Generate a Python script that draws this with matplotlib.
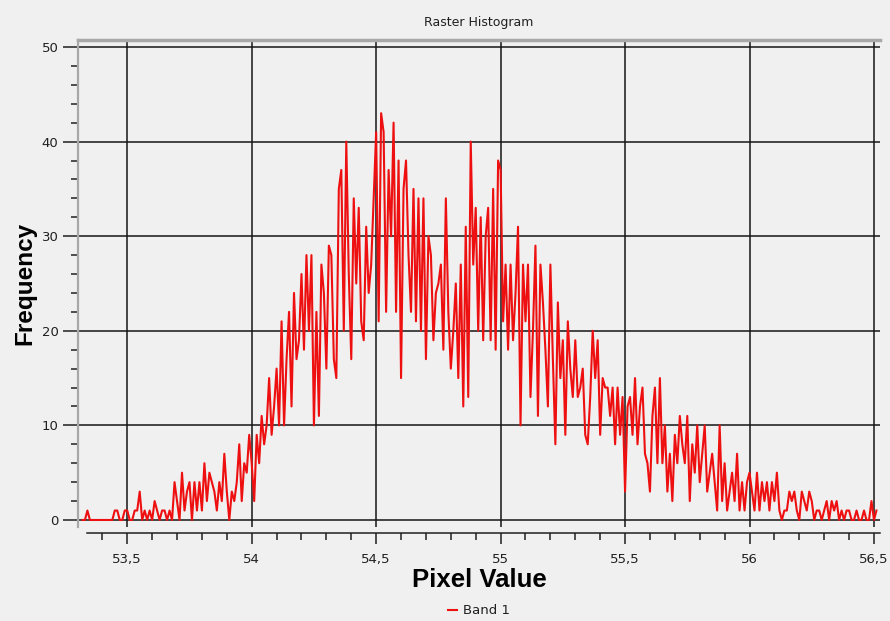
import numpy as np
import matplotlib
matplotlib.use("Agg")
import matplotlib.pyplot as plt
from matplotlib.ticker import MultipleLocator, FuncFormatter

# histogram of Band 1, pixel value range and counts per bin
pixel_min = 53.32
pixel_max = 56.51
freq = [
    0, 0, 1, 0, 0, 0, 0, 0, 0, 0,
    0, 0, 0, 1, 1, 0, 0, 1, 1, 0,
    0, 1, 1, 3, 0, 1, 0, 1, 0, 2,
    1, 0, 1, 1, 0, 1, 0, 4, 2, 0,
    5, 1, 3, 4, 0, 4, 1, 4, 1, 6,
    2, 5, 4, 3, 1, 4, 2, 7, 3, 0,
    3, 2, 4, 8, 2, 6, 5, 9, 6, 2,
    9, 6, 11, 8, 10, 15, 9, 12, 16, 10,
    21, 10, 17, 22, 12, 24, 17, 19, 26, 18,
    28, 20, 28, 10, 22, 11, 27, 24, 16, 29,
    28, 17, 15, 35, 37, 20, 40, 26, 17, 34,
    25, 33, 21, 19, 31, 24, 27, 34, 41, 21,
    43, 41, 22, 37, 30, 42, 22, 38, 15, 35,
    38, 28, 22, 35, 21, 34, 20, 34, 17, 30,
    28, 19, 24, 25, 27, 18, 34, 22, 16, 20,
    25, 15, 27, 12, 31, 13, 40, 27, 33, 20,
    32, 19, 30, 33, 19, 35, 18, 38, 37, 21,
    27, 18, 27, 19, 24, 31, 10, 27, 21, 27,
    13, 20, 29, 11, 27, 23, 18, 12, 27, 17,
    8, 23, 15, 19, 9, 21, 16, 13, 19, 13,
    14, 16, 9, 8, 13, 20, 15, 19, 9, 15,
    14, 14, 11, 14, 8, 14, 9, 13, 3, 12,
    13, 9, 15, 8, 12, 14, 7, 6, 3, 11,
    14, 6, 15, 6, 10, 3, 7, 2, 9, 6,
    11, 8, 6, 11, 2, 8, 5, 10, 4, 7,
    10, 3, 5, 7, 4, 1, 10, 2, 6, 1,
    3, 5, 2, 7, 1, 4, 1, 4, 5, 3,
    1, 5, 1, 4, 2, 4, 1, 4, 2, 5,
    1, 0, 1, 1, 3, 2, 3, 1, 0, 3,
    2, 1, 3, 2, 0, 1, 1, 0, 1, 2,
    0, 2, 1, 2, 0, 1, 0, 1, 1, 0,
    0, 1, 0, 0, 1, 0, 0, 2, 0, 1,
]
pixel_values = np.linspace(pixel_min, pixel_max, len(freq))

bg = "#f0f0f0"
fig = plt.figure(figsize=(8.9, 6.21), dpi=100, facecolor=bg)
ax = fig.add_axes([0.0876, 0.1514, 0.9011, 0.7842], facecolor=bg)

ax.plot(pixel_values, freq, color="#ee1010", lw=1.5, zorder=3, label="Band 1")

ax.set_xlim(53.302, 56.524)
ax.set_ylim(-0.74, 50.74)

ax.xaxis.set_major_locator(MultipleLocator(0.5))
ax.xaxis.set_minor_locator(MultipleLocator(0.1))
ax.yaxis.set_major_locator(MultipleLocator(10))
ax.yaxis.set_minor_locator(MultipleLocator(2))
ax.xaxis.set_major_formatter(FuncFormatter(lambda v, p: f"{v:g}".replace(".", ",")))

ax.grid(True, which="major", color="#151515", lw=1.1, zorder=1)

# axis lines
ax.spines["right"].set_visible(False)
ax.spines["top"].set_color("#a8a8a8")
ax.spines["top"].set_linewidth(2.5)
ax.spines["left"].set_color("#a8a8a8")
ax.spines["left"].set_linewidth(1.6)
ax.spines["bottom"].set_position(("outward", 4.5))
ax.spines["bottom"].set_bounds(53.34, 56.524)
ax.spines["bottom"].set_color("#202020")
ax.spines["bottom"].set_linewidth(1.1)

ax.tick_params(axis="x", which="major", length=8, width=1.1, color="#202020",
               labelsize=9.5, labelcolor="#202020", pad=6)
ax.tick_params(axis="x", which="minor", length=5, width=1.1, color="#202020")
ax.tick_params(axis="y", which="major", length=11, width=1.1, color="#202020",
               labelsize=9.5, labelcolor="#202020", pad=3)
ax.tick_params(axis="y", which="minor", length=5, width=1.1, color="#202020")

ax.set_title("Raster Histogram", fontsize=9, color="#202020", pad=10)
ax.set_xlabel("Pixel Value", fontsize=18.5, fontweight="bold",
              family=["Liberation Sans Narrow", "Liberation Sans", "DejaVu Sans"], labelpad=2)
ax.set_ylabel("Frequency", fontsize=17.5, fontweight="bold",
              family=["Liberation Sans Narrow", "Liberation Sans", "DejaVu Sans"], labelpad=4)

ax.legend(loc="center", bbox_to_anchor=(0.5, -0.172), frameon=False,
          fontsize=9.5, handlelength=0.7, handletextpad=0.5, labelcolor="#202020",
          borderpad=0.1)

fig.savefig("out.png", dpi=100, facecolor=bg)
